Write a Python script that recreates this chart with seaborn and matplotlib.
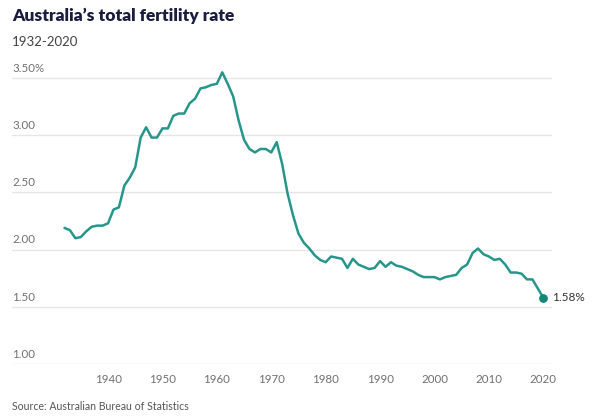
import matplotlib
matplotlib.use("Agg")
import matplotlib.pyplot as plt
import matplotlib.transforms as mtransforms
import pandas as pd
import seaborn as sns

# Total fertility rate (births per woman)
years = list(range(1932, 2021))
fertility = [
    2.19, 2.17, 2.10, 2.11, 2.16, 2.20, 2.21, 2.21, 2.23, 2.35,
    2.37, 2.56, 2.63, 2.72, 2.98, 3.07, 2.98, 2.98, 3.06, 3.06,
    3.17, 3.19, 3.19, 3.28, 3.32, 3.41, 3.42, 3.44, 3.45, 3.55,
    3.45, 3.34, 3.13, 2.96, 2.88, 2.85, 2.88, 2.88, 2.85, 2.94,
    2.75, 2.49, 2.30, 2.14, 2.06, 2.01, 1.95, 1.91, 1.89, 1.94,
    1.93, 1.92, 1.84, 1.92, 1.87, 1.85, 1.83, 1.84, 1.90, 1.85,
    1.89, 1.86, 1.85, 1.83, 1.81, 1.78, 1.76, 1.76, 1.76, 1.74,
    1.76, 1.77, 1.78, 1.84, 1.87, 1.97, 2.01, 1.96, 1.94, 1.91,
    1.92, 1.87, 1.80, 1.80, 1.79, 1.74, 1.74, 1.66, 1.58,
]
y_ticks = [1.0, 1.5, 2.0, 2.5, 3.0, 3.5]
y_tick_labels = ["1.00", "1.50", "2.00", "2.50", "3.00", "3.50%"]
x_ticks = [1940, 1950, 1960, 1970, 1980, 1990, 2000, 2010, 2020]

title = "Australia\u2019s total fertility rate"
subtitle = "1932-2020"
source = "Source: Australian Bureau of Statistics"

df = pd.DataFrame({"year": years, "rate": fertility})

sns.set_theme(style="white")
plt.rcParams["font.family"] = ["Lato", "DejaVu Sans"]

teal = "#27968a"
grid_col = "#e6e6e6"
tick_col = "#707070"

fig = plt.figure(figsize=(6, 4.2), dpi=100)
ax = fig.add_axes([0.02, 0.1333, 0.90, 0.708])

for v in y_ticks:
    ax.axhline(v, color=grid_col, lw=1.0, zorder=0)

sns.lineplot(data=df, x="year", y="rate", color=teal, lw=1.8, ax=ax, clip_on=False)
last = df.iloc[-1]
ax.scatter([last["year"]], [last["rate"]], s=28, color="#168577", zorder=5, clip_on=False)
ax.annotate(f"{last['rate']:.2f}%", (last["year"], last["rate"]), xytext=(6, 0),
            textcoords="offset points", va="center", ha="left", fontsize=8.5, color="#333333")

ax.set_xlim(1922.35, 2021.6)
ax.set_ylim(1.0, 3.6)

# y labels sit on top of the gridlines at the left edge
trans = mtransforms.blended_transform_factory(ax.transAxes, ax.transData)
for v, lab in zip(y_ticks, y_tick_labels):
    ax.annotate(lab, (0, v), xycoords=trans, xytext=(0, 3), textcoords="offset points",
                ha="left", va="bottom", fontsize=8.3, color=tick_col)

ax.set_yticks([])
ax.set_xticks(x_ticks)
ax.set_xticklabels([str(x) for x in x_ticks], fontsize=8.3, color=tick_col)
ax.tick_params(axis="x", length=0, pad=7)
ax.set_xlabel("")
ax.set_ylabel("")
sns.despine(ax=ax, left=True, bottom=True, top=True, right=True)

fig.text(0.02, 1 - 16 / 420, title, fontsize=12.5, fontweight="heavy", color="#1b1d3f",
         ha="left", va="center")
fig.text(0.02, 1 - 42 / 420, subtitle, fontsize=9.5, color="#444444", ha="left", va="center")
fig.text(0.02, 1 - 407 / 420, source, fontsize=7.6, color="#555555", ha="left", va="center")

fig.savefig("out.png", dpi=100)
